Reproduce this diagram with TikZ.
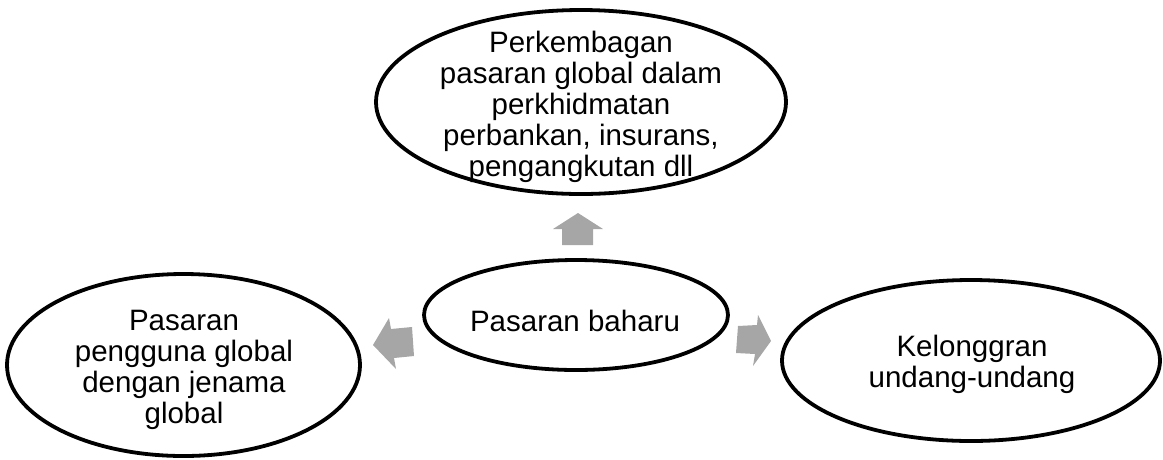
\documentclass[tikz,border=0pt]{standalone}
\usepackage{fontspec}
\setmainfont{Liberation Sans}
\usetikzlibrary{shapes.geometric}
\definecolor{arrowgray}{RGB}{166,166,166}
\tikzset{
  oval/.style={draw=black, line width=3.8pt, ellipse, inner sep=0pt, fill=white},
  lbl/.style={align=center, inner sep=0pt, font=\fontsize{29.5pt}{31pt}\selectfont},
  blockarrow/.style={fill=arrowgray, draw=none}
}
\begin{document}
\begin{tikzpicture}[x=1pt, y=-1pt]
\useasboundingbox (0,0) rectangle (1163,459);
% ellipses
\node[oval, minimum width=410pt, minimum height=184pt] (top) at (581,102) {};
\node[oval, minimum width=304pt, minimum height=110pt] (mid) at (576,315) {};
\node[oval, minimum width=353pt, minimum height=182pt] (left) at (183.5,365) {};
\node[oval, minimum width=378pt, minimum height=161pt] (right) at (971,360.5) {};
% texts
\node[lbl] (ttop) at (581,106.5) {Perkembagan\\pasaran global dalam\\perkhidmatan\\perbankan, insurans,\\pengangkutan dll};
\node[lbl] (tmid) at (575,321) {Pasaran baharu};
\node[lbl] (tleft) at (184,369.5) {Pasaran\\pengguna global\\dengan jenama\\global};
\node[lbl] (tright) at (972,364) {Kelonggran\\undang-undang};
% block arrows
\fill[blockarrow] (578,213) -- (603,229) -- (593,229) -- (593,245) -- (562,245) -- (562,229) -- (553,229) -- cycle;
\fill[blockarrow] (373,345) -- (389,318) -- (391,329) -- (412,327) -- (414,356) -- (394,358) -- (396,369) -- cycle;
\fill[blockarrow] (771,341) -- (758,315) -- (757,325) -- (738,326) -- (736,353) -- (755,354) -- (753,366) -- cycle;
\end{tikzpicture}
\end{document}
